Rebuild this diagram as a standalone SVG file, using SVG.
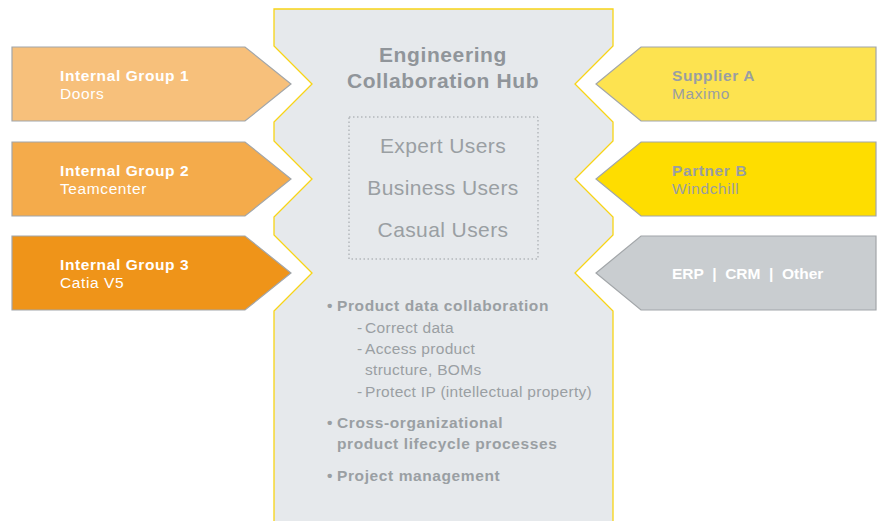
<svg xmlns="http://www.w3.org/2000/svg" width="880" height="521" viewBox="0 0 880 521">
<style>
.arr{stroke:#a2a6a9;stroke-width:1.2}
.lt{font-family:"Liberation Sans",Arial,sans-serif;fill:#ffffff;font-size:15.5px;letter-spacing:0.6px}
.rt{font-family:"Liberation Sans",Arial,sans-serif;fill:#999ea2;font-size:15.5px;letter-spacing:0.6px}
.b{font-weight:bold}
.hub{font-family:"Liberation Sans",Arial,sans-serif;fill:#90959a}
.u{font-family:"Liberation Sans",Arial,sans-serif;fill:#9a9fa3;font-size:21px;letter-spacing:0.4px}
.bt{font-family:"Liberation Sans",Arial,sans-serif;fill:#9a9fa3;font-size:15.5px;letter-spacing:0.3px}
.bb{font-family:"Liberation Sans",Arial,sans-serif;fill:#9a9fa3;font-size:15.5px;letter-spacing:0.6px;font-weight:bold}
</style>
<rect width="880" height="521" fill="#ffffff"/>
<g id="hub">
<path d="M274,9 H613 V46 L575,84 L613,122 V141 L575,179 L613,217 V235 L575,273 L613,311 V530 H274 V311 L312,273 L274,235 V217 L312,179 L274,141 V122 L312,84 L274,46 Z" fill="#e6e9ec" stroke="#f8d416" stroke-width="1.3"/>
<text class="hub b" x="443" y="62" text-anchor="middle" font-size="21" letter-spacing="0.6">Engineering</text>
<text class="hub b" x="443" y="88" text-anchor="middle" font-size="21" letter-spacing="0.6">Collaboration Hub</text>
<rect x="349" y="117" width="189" height="142" fill="none" stroke="#9a9fa3" stroke-width="1" stroke-dasharray="1.5 2.5"/>
<text class="u" x="443" y="153" text-anchor="middle">Expert Users</text>
<text class="u" x="443" y="195" text-anchor="middle">Business Users</text>
<text class="u" x="443" y="237" text-anchor="middle">Casual Users</text>
<text class="bb" x="327" y="311">•</text>
<text class="bb" x="337" y="311">Product data collaboration</text>
<text class="bt" x="357" y="333">-</text>
<text class="bt" x="365" y="333">Correct data</text>
<text class="bt" x="357" y="354">-</text>
<text class="bt" x="365" y="354">Access product</text>
<text class="bt" x="365" y="375">structure, BOMs</text>
<text class="bt" x="357" y="397">-</text>
<text class="bt" x="365" y="397">Protect IP (intellectual property)</text>
<text class="bb" x="327" y="428">•</text>
<text class="bb" x="337" y="428">Cross-organizational</text>
<text class="bb" x="337" y="449">product lifecycle processes</text>
<text class="bb" x="327" y="481">•</text>
<text class="bb" x="337" y="481">Project management</text>
</g>
<g id="connectors"></g>
<g id="internal1">
<path class="arr" d="M12,47 H245 L291,84 L245,121 H12 Z" fill="#f7c07b"/>
<text class="lt b" x="60" y="81">Internal Group 1</text>
<text class="lt" x="60" y="99">Doors</text>
</g>
<g id="internal2">
<path class="arr" d="M12,142 H245 L291,179 L245,216 H12 Z" fill="#f4ab4b"/>
<text class="lt b" x="60" y="176">Internal Group 2</text>
<text class="lt" x="60" y="194">Teamcenter</text>
</g>
<g id="internal3">
<path class="arr" d="M12,236 H245 L291,273 L245,310 H12 Z" fill="#ef9419"/>
<text class="lt b" x="60" y="270">Internal Group 3</text>
<text class="lt" x="60" y="288">Catia V5</text>
</g>
<g id="supplierA">
<path class="arr" d="M876,47 H641 L596,84 L641,121 H876 Z" fill="#fde350"/>
<text class="rt b" x="672" y="81">Supplier A</text>
<text class="rt" x="672" y="99">Maximo</text>
</g>
<g id="partnerB">
<path class="arr" d="M876,142 H641 L596,179 L641,216 H876 Z" fill="#fedd00"/>
<text class="rt b" x="672" y="176">Partner B</text>
<text class="rt" x="672" y="194">Windchill</text>
</g>
<g id="other">
<path class="arr" d="M876,236 H641 L596,273 L641,310 H876 Z" fill="#c9cdd0"/>
<text class="lt b" x="672" y="279" style="letter-spacing:0" xml:space="preserve">ERP  |  CRM  |  Other</text>
</g>
</svg>
